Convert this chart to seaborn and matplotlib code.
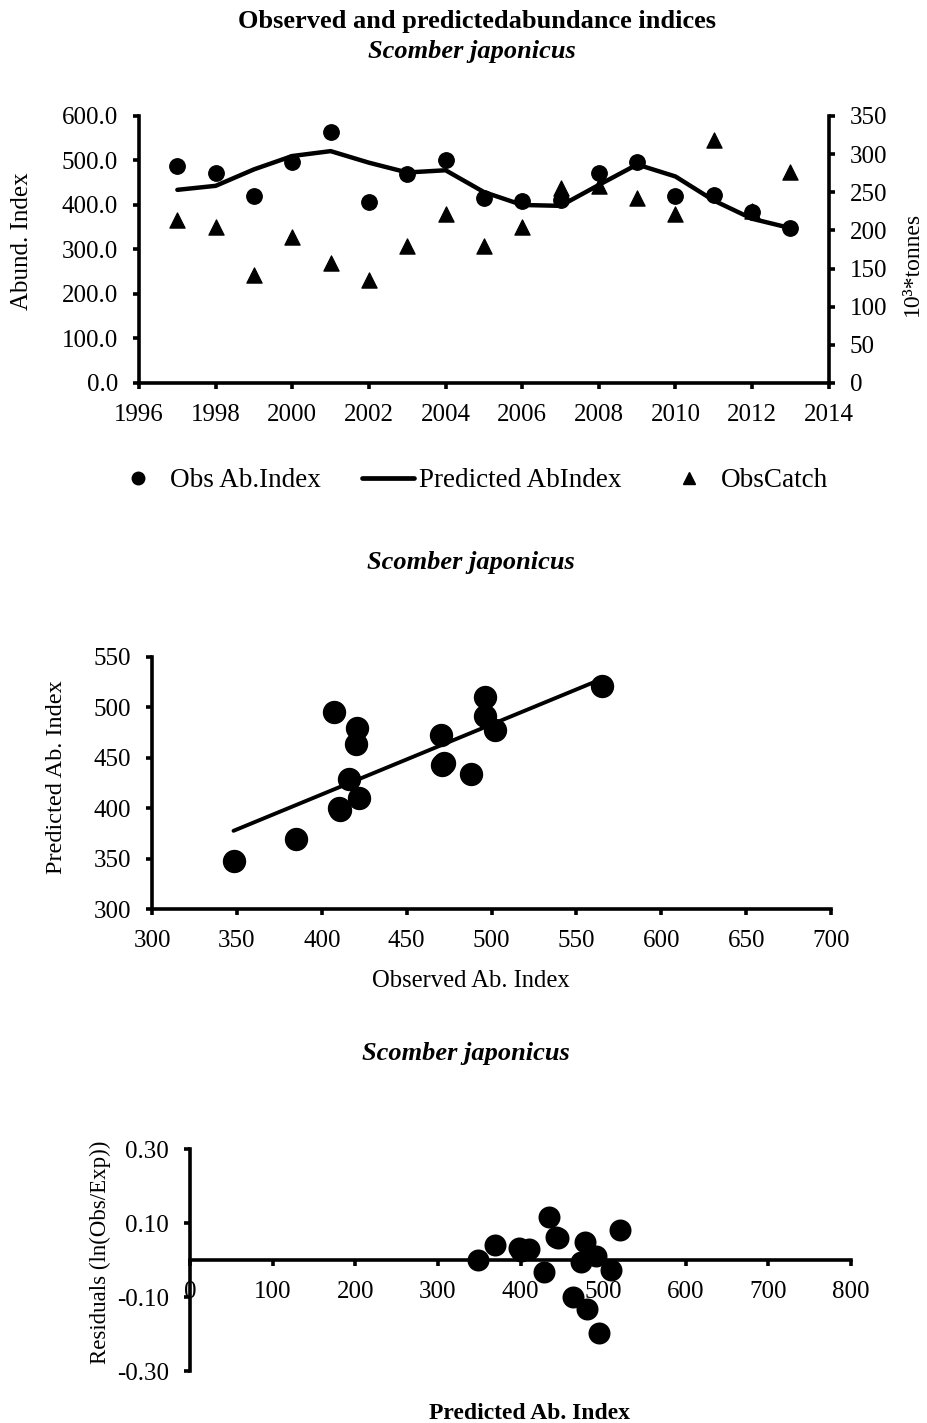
import numpy as np
import pandas as pd
import matplotlib
matplotlib.use("Agg")
import matplotlib.pyplot as plt
import seaborn as sns
from matplotlib.lines import Line2D
from matplotlib.ticker import FormatStrFormatter, MultipleLocator, FixedLocator

# ---------------- data ----------------
years = [1997, 1998, 1999, 2000, 2001, 2002, 2003, 2004, 2005,
         2006, 2007, 2008, 2009, 2010, 2011, 2012, 2013]
obs_index = [488, 471, 421, 496, 565, 407, 470, 502, 416,
             410, 411, 472, 496, 420, 422, 385, 348]
pred_index = [434, 443, 480, 510, 521, 495, 473, 478, 429,
              400, 398, 445, 491, 464, 410, 369, 348]
obs_catch = [213, 204, 141, 191, 157, 135, 180, 222, 180,
             205, 255, 258, 242, 222, 319, 225, 277]
residuals = [0.117, 0.061, -0.131, -0.028, 0.081, -0.196, -0.006, 0.049, -0.031,
             0.025, 0.032, 0.059, 0.010, -0.100, 0.029, 0.042, 0.000]

df = pd.DataFrame({"year": years, "obs": obs_index, "pred": pred_index,
                   "catch": obs_catch, "resid": residuals})

# ---------------- style ----------------
sns.set_style("ticks")
plt.rcParams['font.family'] = ['Liberation Serif', 'DejaVu Serif']
plt.rcParams.update({
    "text.color": "black",
    "axes.labelcolor": "black",
    "xtick.color": "black",
    "ytick.color": "black",
    "xtick.major.size": 4.5,
    "ytick.major.size": 4.5,
    "xtick.major.width": 2.6,
    "ytick.major.width": 2.6,
})
FS_TICK = 18
FS_LAB = 17.7
FS_LEG = 19.5
FS_TITLE = 19
LW_SP = 2.6

fig = plt.figure(figsize=(9.27, 14.23), dpi=100)


def style(ax, sides=("left", "bottom")):
    for name, sp in ax.spines.items():
        if name in sides:
            sp.set_visible(True)
            sp.set_linewidth(LW_SP)
            sp.set_color("black")
        else:
            sp.set_visible(False)
    ax.tick_params(which="major", direction="out", length=4.5, width=LW_SP,
                   labelsize=FS_TICK, color="black", labelcolor="black", pad=10.5,
                   bottom="bottom" in sides, left="left" in sides,
                   right="right" in sides, top=False,
                   labelbottom="bottom" in sides, labelleft="left" in sides,
                   labelright="right" in sides)
    ax.tick_params(which="minor", length=0)
    ax.set_facecolor("none")


# ---------------- top chart ----------------
ax1 = fig.add_axes([0.150, 0.7309, 0.744, 0.1876])
sns.lineplot(data=df, x="year", y="pred", ax=ax1, color="black", lw=3.2,
             zorder=2, legend=False)
sns.scatterplot(data=df, x="year", y="obs", ax=ax1, color="black", s=125,
                marker="o", edgecolor="black", zorder=3, legend=False)
ax1.set_xlim(1996, 2014)
ax1.set_ylim(0, 600)
ax1.xaxis.set_major_locator(MultipleLocator(2))
ax1.yaxis.set_major_locator(MultipleLocator(100))
ax1.yaxis.set_major_formatter(FormatStrFormatter("%.1f"))
ax1.set_xlabel("")
ax1.set_ylabel("Abund. Index", fontsize=18)
ax1.yaxis.set_label_coords(-0.170, 0.53)
ax1.yaxis.label.set_va("center")
style(ax1)

ax2 = ax1.twinx()
sns.scatterplot(data=df, x="year", y="catch", ax=ax2, color="black", s=120,
                marker="^", edgecolor="black", legend=False)
ax2.set_ylim(0, 350)
ax2.yaxis.set_major_locator(MultipleLocator(50))
ax2.set_ylabel("10\u00b3*tonnes", fontsize=17, rotation=90)
ax2.yaxis.set_label_coords(1.122, 0.446)
ax2.yaxis.label.set_va("center")
style(ax2, sides=("right",))

handles = [
    Line2D([], [], marker="o", color="black", ls="none", markersize=9),
    Line2D([], [], color="black", lw=3.4),
    Line2D([], [], marker="^", color="black", ls="none", markersize=9),
]
labels = ["Obs Ab.Index", "Predicted AbIndex", "ObsCatch"]
fig.legend(handles, labels, loc="center", bbox_to_anchor=(0.507, 0.662),
           ncol=3, frameon=False, fontsize=FS_LEG, handlelength=1.93,
           handletextpad=0.2, columnspacing=1.52, borderpad=0, borderaxespad=0)

fig.text(0.515, 0.985, "Observed and predictedabundance indices",
         ha="center", va="center", fontsize=FS_TITLE, fontweight="bold")
fig.text(0.509, 0.964, "Scomber japonicus", ha="center", va="center",
         fontsize=FS_TITLE, fontweight="bold", style="italic")

# ---------------- middle chart ----------------
fig.text(0.508, 0.605, "Scomber japonicus", ha="center", va="center",
         fontsize=FS_TITLE, fontweight="bold", style="italic")
ax3 = fig.add_axes([0.164, 0.3612, 0.7325, 0.1771])
sns.regplot(data=df, x="obs", y="pred", ax=ax3, ci=None, truncate=True,
            scatter_kws=dict(s=250, color="black", edgecolor="black", alpha=1),
            line_kws=dict(color="black", lw=2.8))
ax3.set_xlim(300, 700)
ax3.set_ylim(300, 550)
ax3.xaxis.set_major_locator(MultipleLocator(50))
ax3.yaxis.set_major_locator(MultipleLocator(50))
ax3.set_xlabel("Observed Ab. Index", fontsize=FS_LAB)
ax3.xaxis.set_label_coords(0.47, -0.286)
ax3.xaxis.label.set_va("center")
ax3.set_ylabel("Predicted Ab. Index", fontsize=17.5)
ax3.yaxis.set_label_coords(-0.141, 0.524)
ax3.yaxis.label.set_va("center")
style(ax3)

# ---------------- bottom chart ----------------
fig.text(0.503, 0.260, "Scomber japonicus", ha="center", va="center",
         fontsize=FS_TITLE, fontweight="bold", style="italic")
ax4 = fig.add_axes([0.205, 0.0365, 0.713, 0.156])
sns.scatterplot(data=df, x="pred", y="resid", ax=ax4, color="black", s=215,
                edgecolor="black", legend=False, zorder=3)
ax4.set_xlim(0, 800)
ax4.set_ylim(-0.30, 0.30)
ax4.xaxis.set_major_locator(MultipleLocator(100))
ax4.yaxis.set_major_locator(FixedLocator([-0.30, -0.10, 0.10, 0.30]))
ax4.yaxis.set_major_formatter(FormatStrFormatter("%.2f"))
ax4.spines["left"].set_position(("data", 0))
ax4.spines["bottom"].set_position(("data", 0))
ax4.set_xlabel("")
ax4.set_ylabel("Residuals (ln(Obs/Exp))", fontsize=16.5)
ax4.yaxis.set_label_coords(-0.136, 0.536)
ax4.yaxis.label.set_va("center")
style(ax4)
fig.text(0.571, 0.007, "Predicted Ab. Index", ha="center", va="center",
         fontsize=17, fontweight="bold")

fig.savefig("out.png", dpi=100)
